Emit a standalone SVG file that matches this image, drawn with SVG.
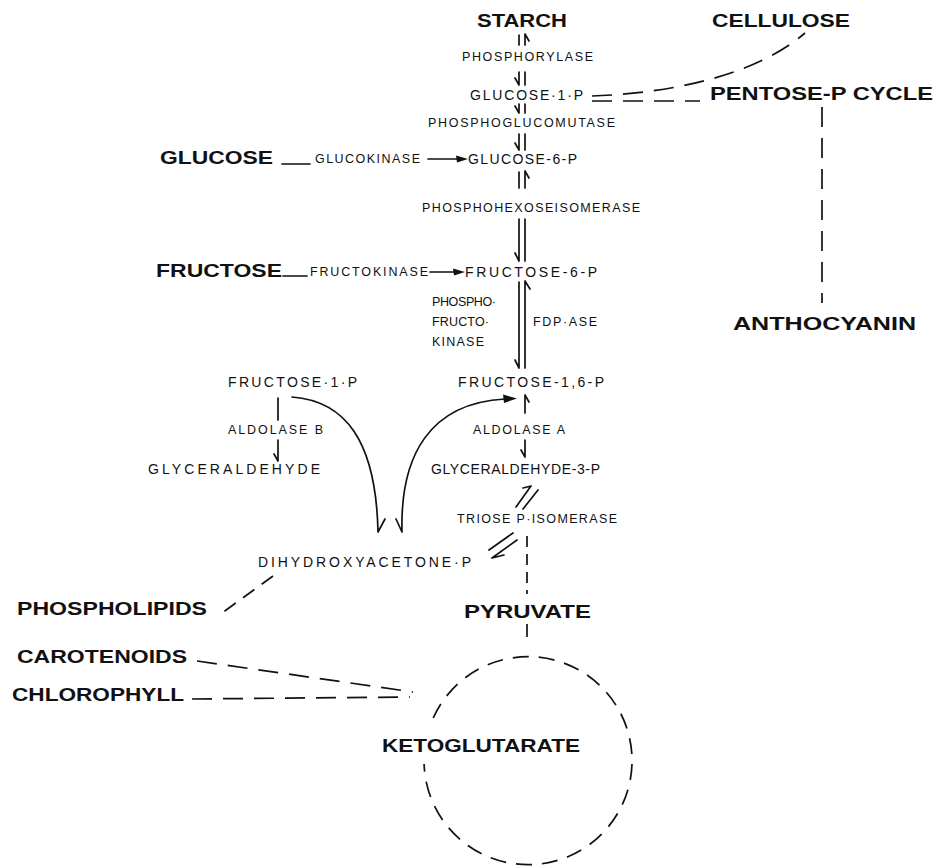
<svg xmlns="http://www.w3.org/2000/svg" width="939" height="868" viewBox="0 0 939 868">
<style>
text{font-family:"Liberation Sans",Arial,Helvetica,sans-serif;fill:#111}
.b{font-weight:bold;font-size:18px}
.m{font-size:14px}
.s{font-size:12.5px}
.ln{fill:none;stroke:#111;stroke-width:1.7;stroke-linecap:round}
.d{fill:none;stroke:#111;stroke-width:1.7;stroke-dasharray:20 11}
.ah{fill:#111;stroke:none}
</style>
<rect width="939" height="868" fill="#fff"/>
<g id="nodes">
<g id="starch"><text class="b" x="477" y="27" textLength="90" lengthAdjust="spacingAndGlyphs">STARCH</text></g>
<g id="cellulose"><text class="b" x="712" y="27" textLength="138" lengthAdjust="spacingAndGlyphs">CELLULOSE</text></g>
<g id="phosphorylase"><text class="s" x="462" y="61" textLength="131" lengthAdjust="spacing">PHOSPHORYLASE</text></g>
<g id="glucose1p"><text class="m" x="470" y="100" textLength="113" lengthAdjust="spacing">GLUCOSE·1·P</text></g>
<g id="pentose"><text class="b" x="710" y="100" textLength="223" lengthAdjust="spacingAndGlyphs">PENTOSE-P CYCLE</text></g>
<g id="phosphoglucomutase"><text class="s" x="428" y="127" textLength="187" lengthAdjust="spacing">PHOSPHOGLUCOMUTASE</text></g>
<g id="glucose"><text class="b" x="160" y="164" textLength="113" lengthAdjust="spacingAndGlyphs">GLUCOSE</text></g>
<g id="glucokinase"><text class="s" x="315" y="163" textLength="105" lengthAdjust="spacing">GLUCOKINASE</text></g>
<g id="glucose6p"><text class="m" x="468" y="164" textLength="109" lengthAdjust="spacing">GLUCOSE-6-P</text></g>
<g id="phi"><text class="s" x="422" y="212" textLength="218" lengthAdjust="spacing">PHOSPHOHEXOSEISOMERASE</text></g>
<g id="fructose"><text class="b" x="156" y="277" textLength="126" lengthAdjust="spacingAndGlyphs">FRUCTOSE</text></g>
<g id="fructokinase"><text class="s" x="310" y="276" textLength="118" lengthAdjust="spacing">FRUCTOKINASE</text></g>
<g id="fructose6p"><text class="m" x="465" y="277" textLength="132" lengthAdjust="spacing">FRUCTOSE-6-P</text></g>
<g id="pfk"><text class="s" x="432" y="306" textLength="64" lengthAdjust="spacing">PHOSPHO·</text><text class="s" x="432" y="326" textLength="57" lengthAdjust="spacing">FRUCTO·</text><text class="s" x="432" y="346" textLength="52" lengthAdjust="spacing">KINASE</text></g>
<g id="fdpase"><text class="s" x="533" y="326" textLength="64" lengthAdjust="spacing">FDP·ASE</text></g>
<g id="fructose1p"><text class="m" x="228" y="387" textLength="129" lengthAdjust="spacing">FRUCTOSE·1·P</text></g>
<g id="fructose16p"><text class="m" x="458" y="387" textLength="146" lengthAdjust="spacing">FRUCTOSE-1,6-P</text></g>
<g id="aldolaseb"><text class="s" x="228" y="434" textLength="95" lengthAdjust="spacing">ALDOLASE B</text></g>
<g id="aldolasea"><text class="s" x="473" y="434" textLength="92" lengthAdjust="spacing">ALDOLASE A</text></g>
<g id="glyceraldehyde"><text class="m" x="148" y="474" textLength="172" lengthAdjust="spacing">GLYCERALDEHYDE</text></g>
<g id="g3p"><text class="m" x="431" y="474" textLength="169" lengthAdjust="spacing">GLYCERALDEHYDE-3-P</text></g>
<g id="tpi"><text class="s" x="457" y="523" textLength="160" lengthAdjust="spacing">TRIOSE P·ISOMERASE</text></g>
<g id="dhap"><text class="m" x="258" y="567" textLength="213" lengthAdjust="spacing">DIHYDROXYACETONE·P</text></g>
<g id="phospholipids"><text class="b" x="17" y="615" textLength="190" lengthAdjust="spacingAndGlyphs">PHOSPHOLIPIDS</text></g>
<g id="pyruvate"><text class="b" x="464" y="618" textLength="127" lengthAdjust="spacingAndGlyphs">PYRUVATE</text></g>
<g id="carotenoids"><text class="b" x="17" y="663" textLength="170" lengthAdjust="spacingAndGlyphs">CAROTENOIDS</text></g>
<g id="chlorophyll"><text class="b" x="12" y="701" textLength="172" lengthAdjust="spacingAndGlyphs">CHLOROPHYLL</text></g>
<g id="ketoglutarate"><text class="b" x="382" y="752" textLength="198" lengthAdjust="spacingAndGlyphs">KETOGLUTARATE</text></g>
<g id="anthocyanin"><text class="b" x="733" y="330" textLength="183" lengthAdjust="spacingAndGlyphs">ANTHOCYANIN</text></g>
</g>
<g id="connectors">
<path class="ln" d="M519,35V45 M525,34V45 M525,34L529,41 M519,72V85 M525,72V85 M519,85L515,78"/>
<path class="ln" d="M519,104V113 M525,104V113 M519,113L515,106 M519,134V150 M525,134V150 M519,150L515,143"/>
<path class="ln" d="M519,172V188 M525,171V188 M525,171L529,178 M519,219V261 M525,219V261 M519,261L515,253"/>
<path class="ln" d="M519,282V368 M525,281V368 M525,281L530,289 M519,368L515,360"/>
<path class="ln" d="M525,395V413 M525,395L529,402 M525,440V457 M525,457L521,450"/>
<path class="ln" d="M278,398V420 M278,440V461 M278,461L274,454"/>
<path class="ln" d="M282,164H310 M428,159H462 M283,276H307 M430,272H459"/>
<path class="ah" d="M468,159L456,155.5L457,162.5Z M465,272L453,268.5L454,275.5Z"/>
<path class="ln" d="M292,397C345,401 376,440 378,532 M378,532L385,519"/>
<path class="ln" d="M402,532C400,455 430,403 505,399 M402,532L396,519"/>
<path class="ah" d="M517,398.5L503,394.5L504,403Z"/>
<path class="ln" d="M516,507L531,486 M531,486L523,488 M523,509L538,490 M489,550L513,533 M492,558L517,540 M492,558L504,555"/>
<path class="d" d="M592,96C680,93 760,72 805,33"/>
<path class="d" d="M592,101H700"/>
<path class="d" d="M822,107V303"/>
<path class="d" style="stroke-dasharray:11 7" d="M527,536V594"/>
<path class="d" style="stroke-dasharray:13 8" d="M527,624V637"/>
<path class="d" style="stroke-dasharray:14 9" d="M273,576L222,613"/>
<path class="d" d="M197,661L413,692"/>
<path class="d" d="M192,699L410,697"/>
<path class="d" style="stroke-dasharray:16 10" d="M433.2,718A104,104 0 1 1 424.1,764"/>
</g>
</svg>
